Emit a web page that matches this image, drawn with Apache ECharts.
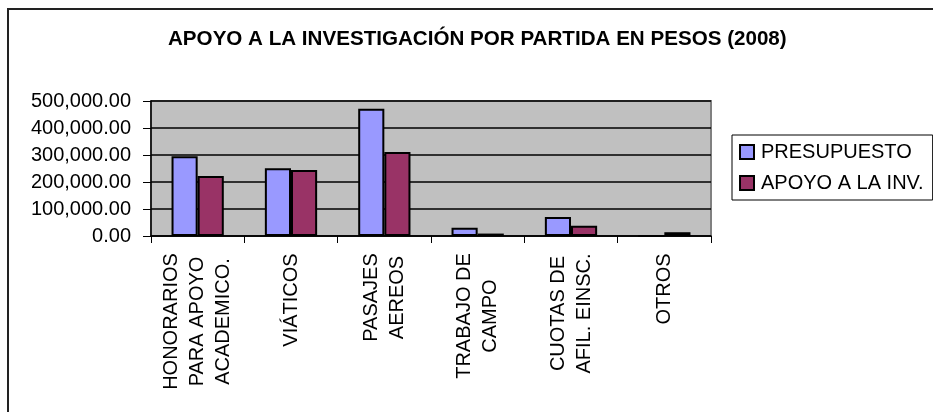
<!DOCTYPE html>
<html>
<head>
    <meta charset="utf-8" />
    <title></title>
    <script src="https://cdn.jsdelivr.net/npm/echarts@6/dist/echarts.min.js"></script>
    <style>
        body { margin: 0; background: #fff; }
    </style>
</head>
<body>
<div id="main" style="width: 933px; height: 412px"></div>
<script type="text/javascript">
    var titleText = 'APOYO A LA INVESTIGACIÓN POR PARTIDA EN PESOS (2008)';
    var categories = ['HONORARIOS\nPARA APOYO\nACADEMICO.', 'VIÁTICOS', 'PASAJES\nAEREOS',
        'TRABAJO DE\nCAMPO', 'CUOTAS DE\nAFIL. EINSC.', 'OTROS'];
    var seriesNames = ['PRESUPUESTO', 'APOYO A LA INV.'];
    var presupuesto = [295000, 251000, 471000, 31000, 70000, 0];
    var apoyo = [222000, 244000, 311000, 9000, 38000, 14000];
    var yTicks = [0, 100000, 200000, 300000, 400000, 500000];

    var FONT = '"Liberation Sans", Arial, sans-serif';

    // ancho de cada etiqueta para centrar las lineas dentro del bloque
    var ctx = document.createElement('canvas').getContext('2d');
    ctx.font = '20px ' + FONT;
    var rich = {};
    categories.forEach(function (c, i) {
        var w = 0;
        c.split('\n').forEach(function (l) {
            w = Math.max(w, ctx.measureText(l).width);
        });
        rich['c' + i] = {
            width: Math.ceil(w), align: 'center', fontSize: 20,
            lineHeight: 26, fontFamily: FONT, color: '#000'
        };
    });

    var myChart = echarts.init(document.getElementById('main'));
    myChart.setOption({
        animation: false,
        backgroundColor: '#fff',
        textStyle: { fontFamily: FONT },
        graphic: [{
            type: 'rect',
            shape: { x: 8, y: 9, width: 1000, height: 500 },
            style: { fill: 'none', stroke: '#222', lineWidth: 2 },
            z: 0
        }],
        title: {
            text: titleText,
            left: 163,
            top: 24,
            textStyle: { fontSize: 20.6, fontWeight: 'bold', color: '#000', fontFamily: FONT }
        },
        legend: {
            orient: 'vertical',
            left: 732,
            top: 135,
            padding: [7, 9, 7, 7],
            itemGap: 11,
            itemWidth: 14,
            itemHeight: 14,
            icon: 'rect',
            backgroundColor: '#fff',
            borderColor: '#000',
            borderWidth: 1,
            textStyle: { fontSize: 20, color: '#000', fontFamily: FONT, padding: [0, 0, 0, 2] },
            data: seriesNames
        },
        grid: {
            left: 151,
            right: 222,
            top: 101,
            bottom: 176,
            show: true,
            backgroundColor: '#C0C0C0',
            borderColor: '#808080',
            borderWidth: 2
        },
        xAxis: {
            type: 'category',
            data: categories,
            axisLine: { lineStyle: { color: '#000', width: 1.5 } },
            axisTick: { show: true, length: 7, lineStyle: { color: '#000' } },
            axisLabel: {
                rotate: 90,
                margin: 17,
                interval: 0,
                formatter: function (value, idx) {
                    return value.split('\n').map(function (l) {
                        return '{c' + idx + '|' + l + '}';
                    }).join('\n');
                },
                rich: rich
            }
        },
        yAxis: {
            type: 'value',
            min: yTicks[0],
            max: yTicks[yTicks.length - 1],
            interval: yTicks[1] - yTicks[0],
            axisLine: { show: true, lineStyle: { color: '#000', width: 1.5 } },
            axisTick: { show: true, length: 8, lineStyle: { color: '#000' } },
            splitLine: { show: true, lineStyle: { color: '#000', width: 1.5 } },
            axisLabel: {
                margin: 20,
                fontSize: 20,
                color: '#000',
                fontFamily: FONT,
                formatter: function (v) {
                    return v.toLocaleString('en-US', { minimumFractionDigits: 2, maximumFractionDigits: 2 });
                }
            }
        },
        series: [
            {
                name: seriesNames[0],
                type: 'bar',
                data: presupuesto,
                barGap: '0%',
                barCategoryGap: '44%',
                itemStyle: { color: '#9999FF', borderColor: '#000', borderWidth: 2 }
            },
            {
                name: seriesNames[1],
                type: 'bar',
                data: apoyo,
                barGap: '0%',
                barCategoryGap: '44%',
                itemStyle: { color: '#993366', borderColor: '#000', borderWidth: 2 }
            }
        ]
    });
</script>
</body>
</html>
